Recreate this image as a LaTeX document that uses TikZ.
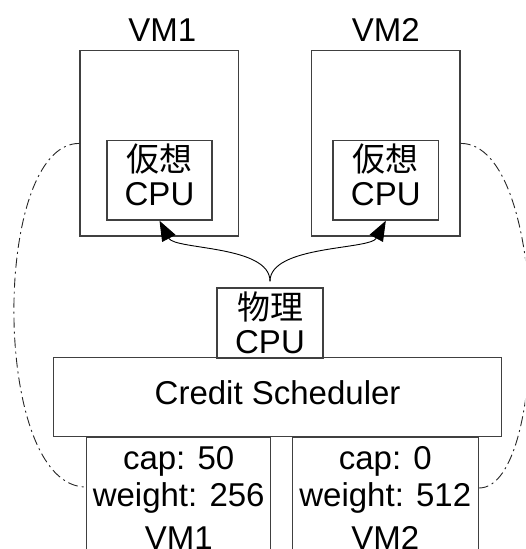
\documentclass[tikz,border=0pt]{standalone}
\usepackage{fontspec}
\setmainfont{Liberation Sans}
\newfontfamily\jpfont{Noto Sans CJK JP}
\usetikzlibrary{arrows.meta,positioning}

\begin{document}
\begin{tikzpicture}[x=1pt,y=-1pt,
	box/.style={draw=black!75,line width=1.4pt,inner sep=0pt,align=center,font=\fontsize{33}{33.5}\selectfont},
	lbl/.style={inner sep=0pt,font=\fontsize{33}{33.5}\selectfont},
	arr/.style={-{Triangle[length=20pt,width=15pt]},line width=0.9pt,shorten <=6pt},
	dashdot/.style={line width=0.9pt,black!85,dash pattern=on 10pt off 4pt on 2pt off 4pt}]
	\path[use as bounding box,clip] (0,0) rectangle (525,549);
	% virtual machines
	\node[box,minimum width=158.3,minimum height=185.3] (vm1) at (159.2,143.4) {};
	\node[box,minimum width=148.3,minimum height=185.3] (vm2) at (385.9,143.4) {};
	\node[lbl,above=8pt of vm1,xshift=3pt] (vm1lbl) {VM1};
	\node[lbl,above=8pt of vm2] (vm2lbl) {VM2};
	\node[box,minimum width=105.3,minimum height=79.7,text depth=11pt] (vcpu1) at (159.5,180.2) {{\jpfont 仮想}\\CPU};
	\node[box,minimum width=105.3,minimum height=79.7,text depth=11pt] (vcpu2) at (385.8,180.2) {{\jpfont 仮想}\\CPU};
	% physical side
	\node[box,minimum width=106,minimum height=70] (pcpu) at (270,323) {{\jpfont 物理}\\CPU};
	\node[box,minimum width=448.2,minimum height=79,text depth=9pt] (sched) at (277.6,397.2) {Credit Scheduler};
	\node[box,minimum width=184,minimum height=122,font=\fontsize{33}{37.4}\selectfont] (cap1) at (178.7,498) {cap: 50\\weight: 256\\[6pt]VM1};
	\node[box,minimum width=186,minimum height=122,font=\fontsize{33}{37.4}\selectfont] (cap2) at (385.3,498) {cap: 0\\weight: 512\\[6pt]VM2};
	\draw[arr] (pcpu.north) .. controls (270,245) and (175,250) .. (vcpu1.south);
	\draw[arr] (pcpu.north) .. controls (270,245) and (370,250) .. (vcpu2.south);
	\draw[dashdot] (vm1.west) .. controls (-9,143.4) and (-9,487) .. ([yshift=11pt]cap1.west);
	\draw[dashdot] (vm2.east) .. controls (550,143.4) and (550,488) .. ([yshift=10pt]cap2.east);
\end{tikzpicture}
\end{document}
